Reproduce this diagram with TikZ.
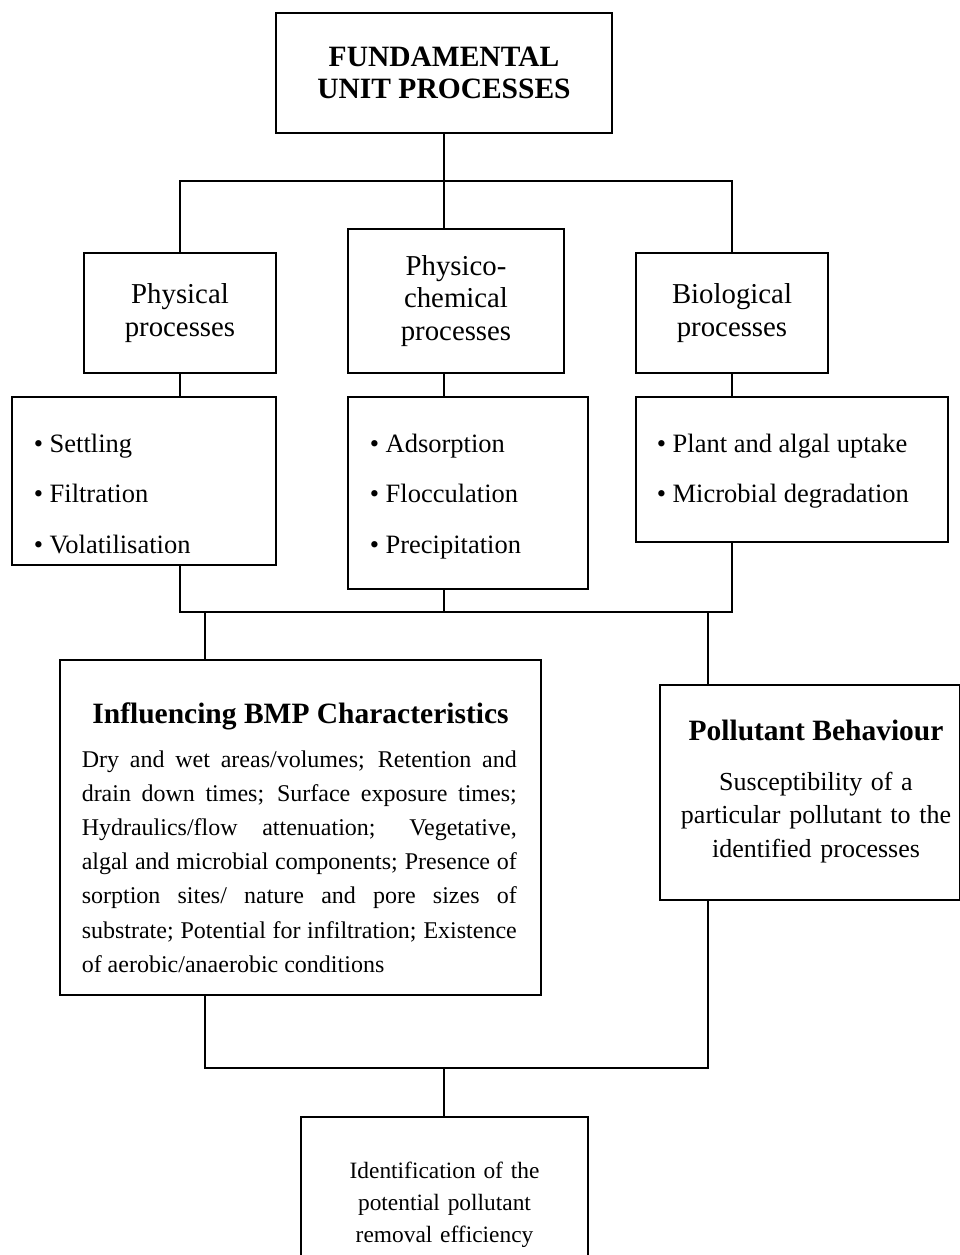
\documentclass[tikz,border=0pt]{standalone}
\usepackage{fontspec}
\setmainfont{Liberation Serif}
\usetikzlibrary{positioning}

\tikzset{
  box/.style 2 args={draw, anchor=north west, minimum width=#1, minimum height=#2, inner sep=0pt, outer sep=0pt},
  head/.style={font=\bfseries\fontsize{29.5}{32}\selectfont},
  proc/.style={align=center, font=\fontsize{28.8}{32.5}\selectfont},
  item/.style={anchor=base west, inner sep=0pt, font=\fontsize{26.5}{30}\selectfont}
}

\begin{document}
\begin{tikzpicture}[x=1pt, y=-1pt, line width=1.5pt]
\useasboundingbox (0,0) rectangle (960,1255);

% top level
\node[box={336pt}{120pt}, head, align=center] (fund) at (276,13) {FUNDAMENTAL\\UNIT PROCESSES};

% process groups
\node[box={192pt}{120pt}, proc] (phys) at (84,253) {Physical\\processes};
\node[box={216pt}{144pt}, proc] (chem) at (348,229) {Physico-\\chemical\\processes};
\node[box={192pt}{120pt}, proc] (bio) at (636,253) {Biological\\processes};

% process lists
\node[box={264pt}{168pt}] (physlist) at (12,397) {};
\node[box={240pt}{192pt}] (chemlist) at (348,397) {};
\node[box={312pt}{145pt}] (biolist) at (636,397) {};

\foreach \txt [count=\i] in {Settling, Filtration, Volatilisation}
  \node[item] (physitem\i) at (33,401.5+50.5*\i) {• \txt};
\foreach \txt [count=\i] in {Adsorption, Flocculation, Precipitation}
  \node[item] (chemitem\i) at (369,401.5+50.5*\i) {• \txt};
\foreach \txt [count=\i] in {Plant and algal uptake, Microbial degradation}
  \node[item] (bioitem\i) at (656,401.5+50.5*\i) {• \txt};

% influencing characteristics
\node[box={481pt}{335pt}] (infl) at (60,660) {};
\node[head, anchor=base, inner sep=0pt] (inflhead) at (300.5,723) {Influencing BMP Characteristics};
\node[anchor=base west, inner sep=0pt, text width=435pt, align=justify,
      font=\fontsize{24}{34.2}\selectfont] (infltext) at (81,767)
  {\hyphenpenalty=10000\relax\tolerance=9999\relax
   Dry and wet areas/volumes; Retention and\linebreak
   drain down times; Surface exposure times;\linebreak
   Hydraulics/flow attenuation; Vegetative,\linebreak
   algal and microbial components; Presence of\linebreak
   sorption sites/ nature and pore sizes of\linebreak
   substrate; Potential for infiltration; Existence\linebreak
   of aerobic/anaerobic conditions};

% pollutant behaviour
\node[box={300pt}{215pt}] (poll) at (660,685) {};
\node[head, anchor=base, inner sep=0pt] (pollhead) at (816,740) {Pollutant Behaviour};
\node[anchor=base, inner sep=0pt, text width=290pt, align=center,
      font=\fontsize{26}{33.5}\selectfont] (polltext) at (816,790)
  {Susceptibility of a\\particular pollutant to the\\identified processes};

% result
\node[box={287pt}{160pt}] (result) at (301,1117) {};
\node[anchor=base, inner sep=0pt, text width=280pt, align=center,
      font=\fontsize{23.4}{32}\selectfont] (resulttext) at (444.5,1178)
  {Identification of the\\potential pollutant\\removal efficiency};

% connectors
\coordinate (fork) at (444,181);
\coordinate (join) at (444,612);
\coordinate (split) at (205,612);
\coordinate (split2) at (708,612);
\coordinate (merge) at (444,1068);

\draw (fund.south) -- (fork);
\draw (phys.north) |- (fork) -| (bio.north);
\draw (fork) -- (fork |- chem.north);

\draw (phys.south) -- (phys.south |- physlist.north);
\draw (fork |- chem.south) -- (fork |- chemlist.north);
\draw (bio.south) -- (bio.south |- biolist.north);

\draw (phys.south |- physlist.south) |- (join) -| (bio.south |- biolist.south);
\draw (join) -- (join |- chemlist.south);

\draw (split) -- (split |- infl.north);
\draw (split2) -- (split2 |- poll.north);

\draw (split |- infl.south) |- (merge) -| (split2 |- poll.south);
\draw (merge) -- (merge |- result.north);

\end{tikzpicture}
\end{document}
